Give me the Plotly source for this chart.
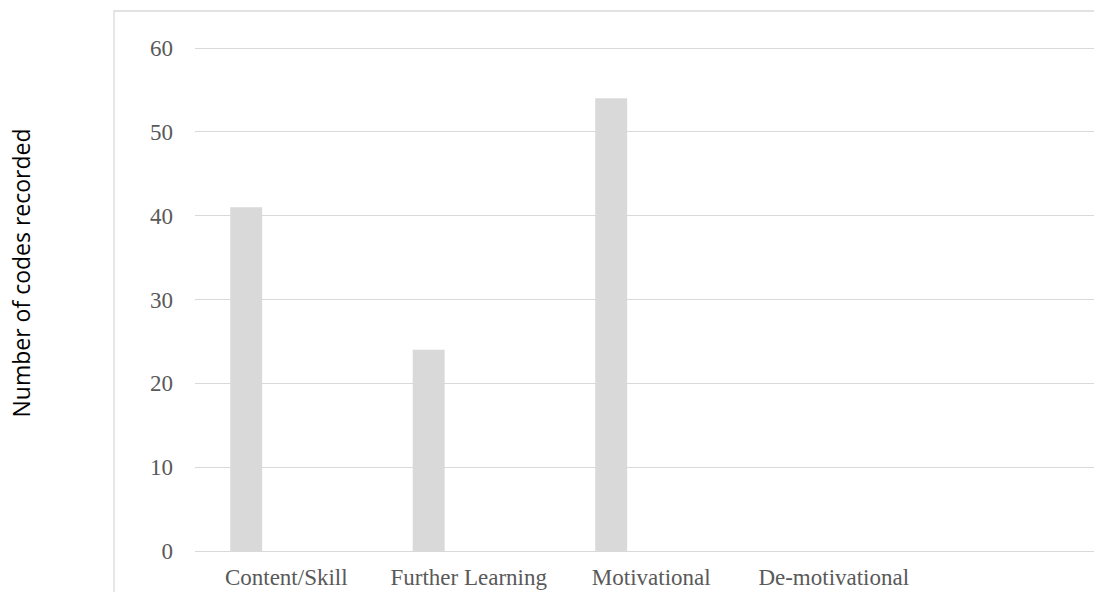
import plotly.graph_objects as go

categories = ["Content/Skill", "Further Learning", "Motivational", "De-motivational"]
codes = [41, 24, 54, 0]
y_ticks = [0, 10, 20, 30, 40, 50, 60]

W, H = 1094, 592
ML, MR, MT, MB = 195, 0, 45, 41
PW = W - ML - MR
PH = H - MT - MB
CAT_PX = 182.5  # pixels per category
Y_TOP = 60.36     # a little headroom so the 60 gridline is drawn

def px_x(p):
    return (p - ML) / PW

def px_y(p):
    return (H - MB - p) / PH

GRID = "#d9d9d9"
TXT = "#595959"

fig = go.Figure()
fig.add_trace(go.Bar(
    x=categories, y=codes,
    marker=dict(color="#d9d9d9", line=dict(width=0)),
    width=0.175, offset=-0.307,
    showlegend=False, hoverinfo="x+y",
))

fig.update_layout(
    width=W, height=H,
    margin=dict(l=ML, r=MR, t=MT, b=MB, pad=0),
    paper_bgcolor="white", plot_bgcolor="white",
    xaxis=dict(
        type="category",
        range=[-0.5, -0.5 + PW / CAT_PX],
        showgrid=False, zeroline=False, showline=False,
        ticks="", ticklabelstandoff=10,
        tickfont=dict(family="Liberation Serif", size=23, color=TXT),
    ),
    yaxis=dict(
        range=[0, Y_TOP], tickvals=y_ticks,
        showgrid=True, gridcolor=GRID, gridwidth=1.3,
        zeroline=True, zerolinecolor=GRID, zerolinewidth=1.3,
        showline=False, ticks="", ticklabelstandoff=21,
        tickfont=dict(family="Liberation Serif", size=23, color=TXT),
    ),
    shapes=[dict(
        type="rect", xref="paper", yref="paper",
        x0=px_x(114), x1=px_x(1200), y0=px_y(700), y1=px_y(11),
        line=dict(color=GRID, width=1.3), fillcolor="rgba(0,0,0,0)", layer="below",
    )],
    annotations=[dict(
        text="Number of codes recorded", xref="paper", yref="paper",
        x=px_x(20), y=px_y(273.5), xanchor="center", yanchor="middle",
        textangle=-90, showarrow=False,
        font=dict(family="Open Sans", size=23, color="#000000"),
    )],
)

fig.write_html("out.html")
